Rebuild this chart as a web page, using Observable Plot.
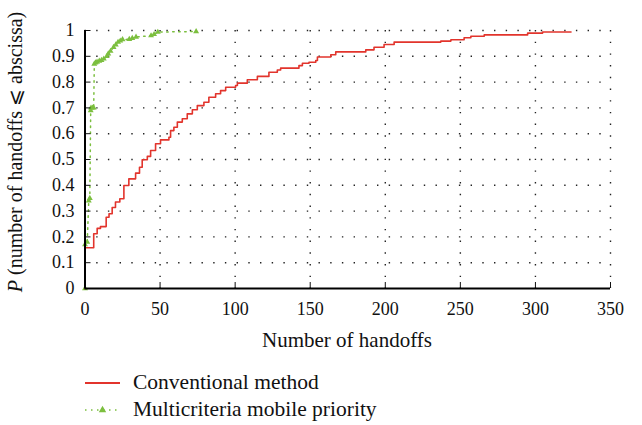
<!DOCTYPE html>
<html>
<head>
<meta charset="utf-8">
<script src="https://cdn.jsdelivr.net/npm/d3@7"></script>
<script src="https://cdn.jsdelivr.net/npm/@observablehq/plot@0.6"></script>
<style>
  body { margin: 0; background: #fff; font-family: "Liberation Serif", "Times New Roman", Times, "DejaVu Serif", serif; }
  #wrap { position: relative; width: 642px; height: 425px; }
  #legend { position: absolute; left: 85px; top: 369px; font-size: 21.5px; color: #111; }
  .row { display: flex; align-items: center; height: 27px; }
  .row svg { margin-right: 13px; }
</style>
</head>
<body>
<div id="wrap"><div id="chart"></div><div id="legend"></div></div>
<script>
// ---- data ----
const xTicks = [0, 50, 100, 150, 200, 250, 300, 350];
const yTicks = [0, 0.1, 0.2, 0.3, 0.4, 0.5, 0.6, 0.7, 0.8, 0.9, 1];
const yTickLabels = ["0", "0.1", "0.2", "0.3", "0.4", "0.5", "0.6", "0.7", "0.8", "0.9", "1"];
const seriesNames = ["Conventional method", "Multicriteria mobile priority"];
const xLabel = "Number of handoffs";
const yLabelItalic = "P";
const yLabelRest = " (number of handoffs \u2A7D abscissa)";

// Conventional method (empirical CDF, step)
const conventionalX = [0, 0, 5.8, 8.1, 10.3, 14.1, 16, 18.1, 20.3, 23.2, 25.9, 29.2, 33.7, 36.3, 38.1, 41.5, 43.7, 47, 50.3, 55.9, 57, 59.2, 61.5, 64.8, 68.1, 71.5, 74.8, 79.2, 82.5, 87, 90.3, 93.7, 100.3, 101.5, 108.1, 114.8, 122.5, 128.1, 130.3, 142.5, 144.8, 149.2, 153.7, 154.8, 163.7, 167, 187, 192.5, 199.2, 205.9, 237, 243.7, 252.5, 257, 265.9, 294.8, 304.8, 323.7];
const conventionalY = [0, 0.158, 0.212, 0.233, 0.24, 0.276, 0.29, 0.314, 0.335, 0.348, 0.399, 0.425, 0.447, 0.47, 0.499, 0.512, 0.535, 0.561, 0.576, 0.586, 0.612, 0.625, 0.645, 0.658, 0.677, 0.693, 0.709, 0.722, 0.741, 0.755, 0.767, 0.78, 0.787, 0.796, 0.809, 0.822, 0.838, 0.847, 0.854, 0.864, 0.873, 0.877, 0.884, 0.897, 0.906, 0.917, 0.925, 0.935, 0.946, 0.955, 0.959, 0.964, 0.972, 0.978, 0.983, 0.99, 0.994, 0.994];

// Multicriteria mobile priority
const multiX = [0, 0, 1.5, 2.5, 3.2, 3.8, 4.0, 5.0, 5.8, 6.2, 7.0, 8.0, 9.5, 11.0, 12.5, 14.5, 15.5, 17.0, 19.0, 20.5, 22.0, 23.5, 25.0, 29.5, 31.5, 34.0, 44.0, 46.0, 48.5, 74.0];
const multiY = [0, 0.17, 0.18, 0.34, 0.35, 0.69, 0.70, 0.70, 0.70, 0.87, 0.875, 0.878, 0.882, 0.885, 0.89, 0.90, 0.91, 0.92, 0.935, 0.945, 0.955, 0.96, 0.965, 0.966, 0.97, 0.975, 0.98, 0.985, 0.994, 0.996];

const red = "#e2342c";
const green = "#7cbf3f";
const fontStack = "'Liberation Serif', 'Times New Roman', Times, 'DejaVu Serif', serif";

const conv = conventionalX.map((x, i) => ({x, y: conventionalY[i]}));
const multi = multiX.map((x, i) => ({x, y: multiY[i]}));

const gridStyle = {stroke: "#222", strokeOpacity: 1, strokeWidth: 1.4, strokeDasharray: "1.4,10.3"};

const plot = Plot.plot({
  width: 642,
  height: 358,
  marginLeft: 84.5,
  marginRight: 32,
  marginTop: 30,
  marginBottom: 70,
  style: {fontFamily: fontStack, fontSize: "18px", color: "#111", background: "#fff", overflow: "visible"},
  x: {domain: [0, 350], label: null},
  y: {domain: [0, 1], label: null},
  marks: [
    Plot.gridX({ticks: xTicks.slice(1), ...gridStyle}),
    Plot.gridY({ticks: yTicks.slice(1), ...gridStyle}),
    Plot.line(multi, {x: "x", y: "y", stroke: green, strokeWidth: 1.5, strokeDasharray: "1.5,4.5"}),
    Plot.dot(multi, {x: "x", y: "y", symbol: "triangle", r: 2.2, fill: green, stroke: null}),
    Plot.line(conv, {x: "x", y: "y", curve: "step-after", stroke: red, strokeWidth: 1.6}),
    Plot.axisX({ticks: xTicks, tickSize: -6, tickPadding: 20, tickFormat: d => String(d), label: null, fontSize: 18, fontFamily: fontStack}),
    Plot.axisY({ticks: yTicks, tickSize: -6, tickPadding: 16.5, tickFormat: d => yTickLabels[yTicks.indexOf(d)], label: null, fontSize: 18, fontFamily: fontStack}),
    Plot.ruleX([0], {stroke: "#000", strokeWidth: 2}),
    Plot.ruleY([0], {stroke: "#000", strokeWidth: 2})
  ]
});
document.getElementById("chart").appendChild(plot);

const svg = d3.select(plot);
svg.append("text")
  .attr("x", 347).attr("y", 347)
  .attr("text-anchor", "middle")
  .attr("font-size", 21)
  .attr("font-family", fontStack)
  .attr("fill", "#111")
  .text(xLabel);
const yl = svg.append("text")
  .attr("transform", "translate(22,152) rotate(-90)")
  .attr("text-anchor", "middle")
  .attr("font-size", 20)
  .attr("font-family", fontStack)
  .attr("fill", "#111");
yl.append("tspan").attr("font-style", "italic").text(yLabelItalic);
yl.append("tspan").text(yLabelRest);

// ---- legend ----
const legend = d3.select("#legend");
seriesNames.forEach((name, i) => {
  const row = legend.append("div").attr("class", "row");
  const s = row.append("svg").attr("width", 35).attr("height", 14);
  if (i === 0) {
    s.append("line").attr("x1", 0).attr("x2", 35).attr("y1", 7).attr("y2", 7)
      .attr("stroke", red).attr("stroke-width", 2);
  } else {
    s.append("line").attr("x1", 0).attr("x2", 35).attr("y1", 7).attr("y2", 7)
      .attr("stroke", green).attr("stroke-width", 1.6).attr("stroke-dasharray", "1.5,4.5");
    s.append("path").attr("d", d3.symbol(d3.symbolTriangle, 24)()).attr("transform", "translate(17.5,7)")
      .attr("fill", green);
  }
  row.append("span").text(name);
});
</script>
</body>
</html>
